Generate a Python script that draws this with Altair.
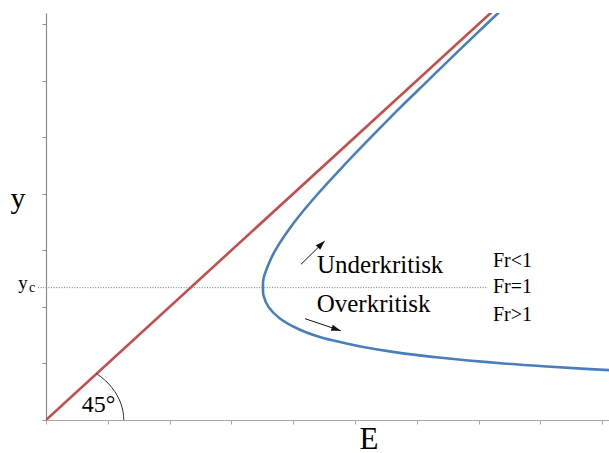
import altair as alt
import pandas as pd

# Specific energy diagram: depth y against specific energy E
yc = 2.34  # critical depth

# Blue curve: specific energy E for each depth y
curve_depth = [0.85, 0.9, 0.95, 1.0, 1.1, 1.2, 1.3, 1.4, 1.5, 1.6, 1.8, 2.0, 2.2, 2.34,
               2.5, 2.8, 3.0, 3.5, 4.0, 4.5, 5.0, 5.5, 6.0, 6.5, 7.0, 7.5]
curve_energy = [9.71, 8.80, 8.04, 7.40, 6.39, 5.64, 5.09, 4.67, 4.34, 4.10, 3.78, 3.60, 3.52, 3.51,
                3.52, 3.62, 3.71, 4.02, 4.40, 4.82, 5.26, 5.71, 6.18, 6.65, 7.13, 7.61]

# Red line E = y
line_energy = [0.0, 7.6]
line_depth = [0.0, 7.6]

# 45 degree angle arc
arc_energy = [1.258, 1.246, 1.209, 1.149, 1.067, 0.964, 0.819]
arc_depth = [0.0, 0.150, 0.298, 0.439, 0.572, 0.694, 0.820]

# Arrows (start, tip) and arrowhead angle in degrees
arrow_x0 = [4.126, 4.191]
arrow_y0 = [2.752, 1.791]
arrow_x1 = [4.510, 4.769]
arrow_y1 = [3.164, 1.579]
arrow_angle = [45.5, 108.6]

# Left-aligned annotations
note_text = ["Underkritisk", "Overkritisk", "Fr<1", "Fr=1", "Fr>1", "45°"]
note_x = [4.385, 4.380, 7.233, 7.233, 7.233, 0.578]
note_y = [2.604, 1.914, 2.710, 2.240, 1.755, 0.136]
note_size = [25, 25, 20, 20, 20, 24]

# Axis titles and the y_c marker (centred)
title_text = ["E", "y", "y", "c"]
title_x = [5.227, -0.453, -0.372, -0.2265]
title_y = [-0.513, 3.748, 2.316, 2.263]
title_size = [31, 30, 19, 14]

x_ticks = [0, 1, 2, 3, 4, 5, 6, 7, 8, 9]
y_ticks = [0, 1, 2, 3, 4, 5, 6, 7]

X_MAX = 9.11
Y_MAX = 7.195
SERIF = "Liberation Serif"

xs = alt.Scale(domain=[0, X_MAX], nice=False, zero=False)
ys = alt.Scale(domain=[0, Y_MAX], nice=False, zero=False)

curve_df = pd.DataFrame({"E": curve_energy, "y": curve_depth, "i": range(len(curve_depth))})
line_df = pd.DataFrame({"E": line_energy, "y": line_depth})
arc_df = pd.DataFrame({"E": arc_energy, "y": arc_depth, "i": range(len(arc_depth))})
arrow_df = pd.DataFrame({"x0": arrow_x0, "y0": arrow_y0, "x1": arrow_x1, "y1": arrow_y1,
                         "angle": arrow_angle})
note_df = pd.DataFrame({"t": note_text, "x": note_x, "y": note_y, "size": note_size})
title_df = pd.DataFrame({"t": title_text, "x": title_x, "y": title_y, "size": title_size})
yc_df = pd.DataFrame({"x0": [-0.129], "x1": [7.152], "y": [yc]})

x_axis = alt.Axis(values=x_ticks, labels=False, title=None, grid=False, tickSize=4,
                  domainColor="#a6a6a6", tickColor="#a6a6a6", domainWidth=1.2, tickWidth=1)
y_axis = alt.Axis(values=y_ticks, labels=False, title=None, grid=False, tickSize=4,
                  domainColor="#8c8c8c", tickColor="#8c8c8c", domainWidth=1.2, tickWidth=1)

base_axes = alt.Chart(line_df).mark_point(opacity=0).encode(
    x=alt.X("E:Q", scale=xs, axis=x_axis),
    y=alt.Y("y:Q", scale=ys, axis=y_axis),
)

yc_line = alt.Chart(yc_df).mark_rule(color="#555555", strokeWidth=0.8, strokeDash=[1, 1.6],
                                      clip=False).encode(
    x=alt.X("x0:Q", scale=xs), x2="x1:Q", y=alt.Y("y:Q", scale=ys))

red = alt.Chart(line_df).mark_line(color="#c0504d", strokeWidth=2.6, clip=True).encode(
    x=alt.X("E:Q", scale=xs), y=alt.Y("y:Q", scale=ys))

blue = alt.Chart(curve_df).mark_line(color="#4a7ebb", strokeWidth=2.6, clip=True,
                                     interpolate="catmull-rom").encode(
    x=alt.X("E:Q", scale=xs), y=alt.Y("y:Q", scale=ys), order="i:Q")

arc = alt.Chart(arc_df).mark_line(color="#111111", strokeWidth=0.9,
                                  interpolate="catmull-rom").encode(
    x=alt.X("E:Q", scale=xs), y=alt.Y("y:Q", scale=ys), order="i:Q")

arrow_shaft = alt.Chart(arrow_df).mark_rule(color="#111111", strokeWidth=1).encode(
    x=alt.X("x0:Q", scale=xs), y=alt.Y("y0:Q", scale=ys), x2="x1:Q", y2="y1:Q")

arrow_head = alt.Chart(arrow_df).mark_point(
    shape="M0,0L0.7,2.1L-0.7,2.1Z", filled=True, color="#111111", opacity=1, size=80,
    strokeWidth=0).encode(
    x=alt.X("x1:Q", scale=xs), y=alt.Y("y1:Q", scale=ys), angle=alt.Angle("angle:Q", scale=None))

notes = alt.Chart(note_df).mark_text(font=SERIF, align="left", baseline="alphabetic",
                                     clip=False).encode(
    x=alt.X("x:Q", scale=xs), y=alt.Y("y:Q", scale=ys), text="t:N",
    size=alt.Size("size:Q", scale=None, legend=None))

titles = alt.Chart(title_df).mark_text(font=SERIF, align="center", baseline="alphabetic",
                                       clip=False).encode(
    x=alt.X("x:Q", scale=xs), y=alt.Y("y:Q", scale=ys), text="t:N",
    size=alt.Size("size:Q", scale=None, legend=None))

chart = alt.layer(
    base_axes, yc_line, red, blue, arc, arrow_shaft, arrow_head, notes, titles,
).properties(
    width=563, height=407,
    autosize=alt.AutoSizeParams(type="none"),
    padding={"left": 46, "top": 13, "right": 0, "bottom": 33},
).configure(font=SERIF).configure_text(font=SERIF).configure_view(stroke=None)

chart.save("out.html", embed_options={"renderer": "svg", "actions": False})
